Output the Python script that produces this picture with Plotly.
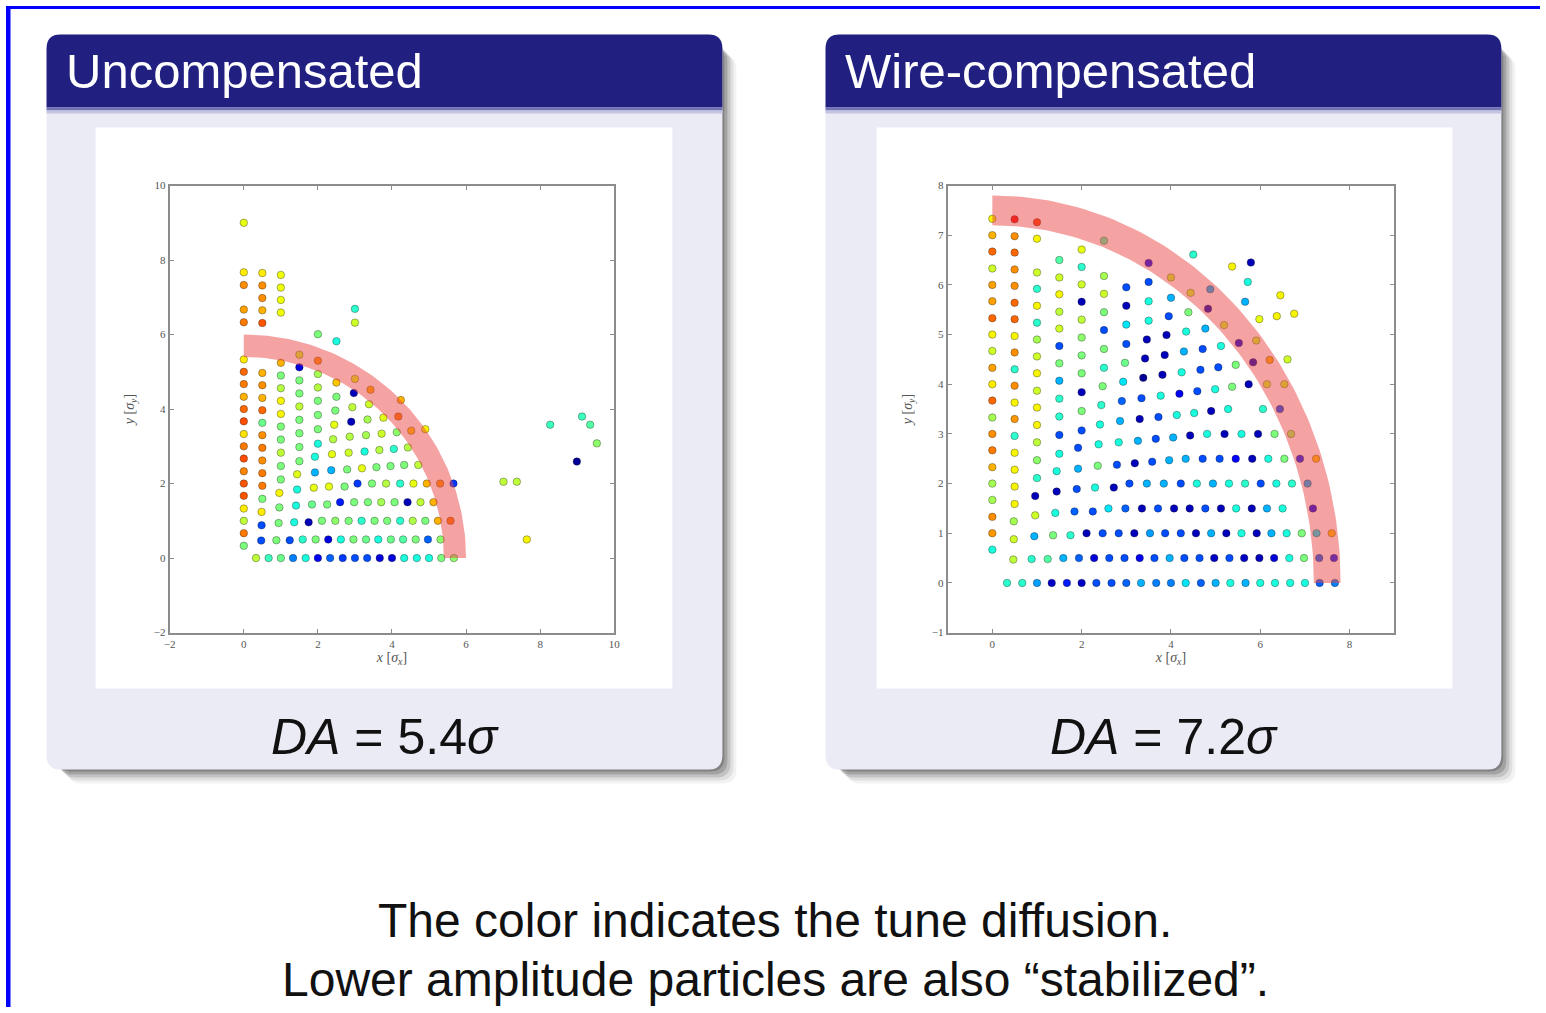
import numpy as np
import plotly.graph_objects as go

W, H = 1546, 1013

# ---- data: surviving particles (x, y in beam sigma, tune diffusion 0..1) ----
DA_UNCOMP = 5.4
DA_WIRE = 7.2
BAND_WIDTH = 0.6

unc_arc0 = [(0.33, 0, 0.58), (0.67, 0, 0.42), (1.0, 0, 0.48), (1.33, 0, 0.25), (1.67, 0, 0.38), (2.0, 0, 0.1),
            (2.33, 0, 0.22), (2.67, 0, 0.18), (3.0, 0, 0.2), (3.33, 0, 0.2), (3.67, 0, 0.08), (4.0, 0, 0.08),
            (4.33, 0, 0.38), (4.67, 0, 0.38), (5.0, 0, 0.38), (5.33, 0, 0.5), (5.67, 0, 0.52),
            (0, 0.33, 0.5), (0, 0.67, 0.78), (0, 1.0, 0.58), (0, 1.33, 0.66), (0, 1.67, 0.82), (0, 2.0, 0.82),
            (0, 2.33, 0.77), (0, 2.67, 0.83), (0, 3.0, 0.78), (0, 3.33, 0.67), (0, 3.67, 0.83), (0, 4.0, 0.8),
            (0, 4.33, 0.72), (0, 4.67, 0.78), (0, 5.0, 0.8), (0, 5.33, 0.66), (0, 6.33, 0.78), (0, 6.67, 0.74),
            (0, 7.33, 0.76), (0, 7.67, 0.66), (0, 9.0, 0.63)]
unc_arc1 = [(0.47, 0.47, 0.2),
            (0.88, 0.48, 0.5), (1.24, 0.48, 0.2), (1.59, 0.5, 0.4), (1.94, 0.5, 0.5), (2.28, 0.5, 0.08),
            (2.62, 0.5, 0.38), (2.96, 0.5, 0.5), (3.30, 0.5, 0.48), (3.63, 0.5, 0.38), (3.97, 0.5, 0.48),
            (4.30, 0.5, 0.45), (4.64, 0.5, 0.5), (4.97, 0.5, 0.22), (5.31, 0.5, 0.52), (7.64, 0.5, 0.65),
            (0.48, 0.88, 0.2), (0.48, 1.24, 0.66), (0.5, 1.59, 0.5), (0.5, 1.94, 0.78), (0.5, 2.28, 0.78),
            (0.5, 2.62, 0.76), (0.5, 2.96, 0.78), (0.5, 3.30, 0.76), (0.5, 3.63, 0.48), (0.5, 3.97, 0.8),
            (0.5, 4.30, 0.72), (0.5, 4.64, 0.76), (0.5, 4.97, 0.72), (0.5, 6.31, 0.82), (0.5, 6.65, 0.72),
            (0.5, 6.98, 0.76), (0.5, 7.32, 0.76), (0.5, 7.65, 0.66)]
unc_arc2 = [(0.94, 0.94, 0.5),
            (1.36, 0.96, 0.38), (1.75, 0.96, 0.05), (2.11, 1.0, 0.5), (2.47, 1.0, 0.52), (2.83, 1.0, 0.5),
            (3.18, 1.0, 0.4), (3.53, 1.0, 0.5), (3.87, 1.0, 0.5), (4.22, 1.0, 0.4), (4.56, 1.0, 0.56),
            (4.90, 1.0, 0.5), (5.24, 1.0, 0.72), (5.58, 1.0, 0.78),
            (0.96, 1.36, 0.5), (0.96, 1.75, 0.65), (1.0, 2.11, 0.5), (1.0, 2.47, 0.5), (1.0, 2.83, 0.58),
            (1.0, 3.18, 0.5), (1.0, 3.53, 0.5), (1.0, 3.87, 0.65), (1.0, 4.22, 0.65), (1.0, 4.56, 0.57),
            (1.0, 4.90, 0.5), (1.0, 5.24, 0.72), (1.0, 6.59, 0.64), (1.0, 6.93, 0.64), (1.0, 7.26, 0.64),
            (1.0, 7.60, 0.64)]
unc_arc3 = [(1.41, 1.41, 0.38),
            (1.84, 1.44, 0.48), (2.25, 1.44, 0.5), (2.60, 1.5, 0.15), (2.98, 1.5, 0.5), (3.35, 1.5, 0.5),
            (3.71, 1.5, 0.55), (4.07, 1.5, 0.5), (4.42, 1.5, 0.05), (4.77, 1.5, 0.58), (5.12, 1.5, 0.72),
            (1.44, 1.84, 0.38), (1.44, 2.25, 0.62), (1.5, 2.60, 0.5), (1.5, 2.98, 0.5), (1.5, 3.35, 0.5),
            (1.5, 3.71, 0.5), (1.5, 4.07, 0.58), (1.5, 4.42, 0.5), (1.5, 4.77, 0.5), (1.5, 5.12, 0.08),
            (1.5, 5.46, 0.6)]
unc_arc4 = [(1.89, 1.89, 0.63),
            (2.30, 1.92, 0.63), (2.72, 1.92, 0.5), (3.07, 2.0, 0.18), (3.46, 2.0, 0.5), (3.84, 2.0, 0.57),
            (4.22, 2.0, 0.4), (4.58, 2.0, 0.63), (4.94, 2.0, 0.72), (5.30, 2.0, 0.75), (5.66, 2.0, 0.18),
            (7.01, 2.05, 0.58), (7.37, 2.05, 0.58),
            (1.92, 2.30, 0.3), (1.92, 2.72, 0.38), (2.0, 3.07, 0.38), (2.0, 3.46, 0.5), (2.0, 3.84, 0.5),
            (2.0, 4.22, 0.5), (2.0, 4.58, 0.57), (2.0, 4.94, 0.55), (2.0, 5.30, 0.75), (2.0, 6.01, 0.5)]
unc_arc5 = [(2.36, 2.36, 0.3),
            (2.79, 2.38, 0.5), (3.19, 2.41, 0.63), (3.58, 2.44, 0.5), (3.96, 2.47, 0.5), (4.33, 2.5, 0.5),
            (4.71, 2.5, 0.58), (8.99, 2.59, 0.02),
            (2.38, 2.79, 0.63), (2.41, 3.19, 0.57), (2.44, 3.58, 0.63), (2.47, 3.96, 0.5), (2.5, 4.33, 0.5),
            (2.5, 4.71, 0.7), (2.5, 5.82, 0.38)]
unc_arc6 = [(2.83, 2.83, 0.6),
            (3.26, 2.86, 0.38), (3.66, 2.90, 0.57), (4.05, 2.93, 0.4), (4.43, 2.97, 0.57), (9.53, 3.08, 0.52),
            (2.86, 3.26, 0.57), (2.90, 3.66, 0.05), (2.93, 4.05, 0.58), (2.97, 4.43, 0.05), (3.0, 4.81, 0.62),
            (3.0, 6.32, 0.6), (3.0, 6.69, 0.4)]
unc_arc7 = [(3.30, 3.30, 0.55),
            (3.72, 3.34, 0.6), (4.13, 3.38, 0.52), (4.52, 3.42, 0.7), (4.90, 3.46, 0.65), (8.27, 3.58, 0.42),
            (9.35, 3.58, 0.45),
            (3.34, 3.72, 0.55), (3.38, 4.13, 0.6), (3.42, 4.52, 0.72)]
unc_arc8 = [(3.77, 3.77, 0.62), (4.17, 3.80, 0.78), (9.13, 3.80, 0.42), (4.24, 4.24, 0.72)]

wc_arc0 = [(0.33, 0, 0.4), (0.67, 0, 0.4), (1.0, 0, 0.28), (1.33, 0, 0.06), (1.67, 0, 0.15), (2.0, 0, 0.06),
           (2.33, 0, 0.2), (2.67, 0, 0.2), (3.0, 0, 0.22), (3.33, 0, 0.3), (3.67, 0, 0.25), (4.0, 0, 0.25),
           (4.33, 0, 0.35), (4.67, 0, 0.22), (5.0, 0, 0.3), (5.33, 0, 0.38), (5.67, 0, 0.3), (6.0, 0, 0.38),
           (6.33, 0, 0.38), (6.67, 0, 0.38), (7.0, 0, 0.38), (7.33, 0, 0.22), (7.67, 0, 0.25),
           (0, 0.67, 0.38), (0, 1.0, 0.75), (0, 1.33, 0.76), (0, 1.67, 0.55), (0, 2.0, 0.55), (0, 2.33, 0.72),
           (0, 2.67, 0.78), (0, 3.0, 0.76), (0, 3.33, 0.55), (0, 3.67, 0.8), (0, 4.0, 0.66), (0, 4.33, 0.74),
           (0, 4.67, 0.6), (0, 5.0, 0.65), (0, 5.33, 0.8), (0, 5.67, 0.74), (0, 6.0, 0.74), (0, 6.33, 0.6),
           (0, 6.67, 0.8), (0, 7.0, 0.72), (0, 7.33, 0.65)]
wc_arc1 = [(0.47, 0.47, 0.58),
           (0.88, 0.48, 0.4), (1.24, 0.48, 0.45), (1.59, 0.5, 0.3), (1.94, 0.5, 0.22), (2.28, 0.5, 0.08),
           (2.62, 0.5, 0.2), (2.96, 0.5, 0.2), (3.30, 0.5, 0.1), (3.63, 0.5, 0.2), (3.97, 0.5, 0.3),
           (4.30, 0.5, 0.2), (4.64, 0.5, 0.2), (4.97, 0.5, 0.06), (5.31, 0.5, 0.2), (5.64, 0.5, 0.06),
           (5.98, 0.5, 0.05), (6.31, 0.5, 0.08), (6.65, 0.5, 0.38), (6.98, 0.5, 0.5), (7.32, 0.5, 0.22),
           (7.65, 0.5, 0.15),
           (0.48, 0.88, 0.6), (0.48, 1.24, 0.55), (0.5, 1.59, 0.65), (0.5, 1.94, 0.65), (0.5, 2.28, 0.65),
           (0.5, 2.62, 0.65), (0.5, 2.96, 0.4), (0.5, 3.30, 0.75), (0.5, 3.63, 0.65), (0.5, 3.97, 0.76),
           (0.5, 4.30, 0.4), (0.5, 4.64, 0.76), (0.5, 4.97, 0.65), (0.5, 5.31, 0.8), (0.5, 5.64, 0.8),
           (0.5, 5.98, 0.76), (0.5, 6.31, 0.76), (0.5, 6.65, 0.8), (0.5, 6.98, 0.76), (0.5, 7.32, 0.9)]
wc_arc2 = [(0.94, 0.94, 0.3),
           (1.36, 0.96, 0.5), (1.75, 0.96, 0.4), (2.11, 1.0, 0.05), (2.47, 1.0, 0.2), (2.83, 1.0, 0.2),
           (3.18, 1.0, 0.05), (3.53, 1.0, 0.28), (3.87, 1.0, 0.2), (4.22, 1.0, 0.2), (4.56, 1.0, 0.05),
           (4.90, 1.0, 0.3), (5.24, 1.0, 0.05), (5.58, 1.0, 0.38), (5.92, 1.0, 0.05), (6.25, 1.0, 0.3),
           (6.59, 1.0, 0.38), (6.93, 1.0, 0.5), (7.26, 1.0, 0.35), (7.60, 1.0, 0.7),
           (0.96, 1.36, 0.6), (0.96, 1.75, 0.05), (1.0, 2.11, 0.4), (1.0, 2.47, 0.52), (1.0, 2.83, 0.58),
           (1.0, 3.18, 0.65), (1.0, 3.53, 0.65), (1.0, 3.87, 0.6), (1.0, 4.22, 0.65), (1.0, 4.56, 0.6),
           (1.0, 4.90, 0.55), (1.0, 5.24, 0.4), (1.0, 5.58, 0.65), (1.0, 5.92, 0.4), (1.0, 6.25, 0.6),
           (1.0, 6.93, 0.65), (1.0, 7.26, 0.85)]
wc_arc3 = [(1.41, 1.41, 0.38),
           (1.84, 1.44, 0.22), (2.25, 1.44, 0.2), (2.60, 1.5, 0.35), (2.98, 1.5, 0.22), (3.35, 1.5, 0.05),
           (3.71, 1.5, 0.2), (4.07, 1.5, 0.05), (4.42, 1.5, 0.05), (4.77, 1.5, 0.2), (5.12, 1.5, 0.05),
           (5.46, 1.5, 0.38), (5.81, 1.5, 0.05), (6.15, 1.5, 0.3), (6.50, 1.5, 0.38), (7.18, 1.5, 0.1),
           (1.44, 1.84, 0.05), (1.44, 2.25, 0.38), (1.5, 2.60, 0.38), (1.5, 2.98, 0.2), (1.5, 3.35, 0.4),
           (1.5, 3.71, 0.4), (1.5, 4.07, 0.3), (1.5, 4.42, 0.5), (1.5, 4.77, 0.2), (1.5, 5.12, 0.6),
           (1.5, 5.46, 0.58), (1.5, 5.81, 0.65), (1.5, 6.15, 0.6), (1.5, 6.50, 0.45)]
wc_arc4 = [(1.89, 1.89, 0.2),
           (2.30, 1.92, 0.38), (2.72, 1.92, 0.05), (3.07, 2.0, 0.2), (3.46, 2.0, 0.3), (3.84, 2.0, 0.3),
           (4.22, 2.0, 0.2), (4.58, 2.0, 0.38), (4.94, 2.0, 0.3), (5.30, 2.0, 0.38), (5.66, 2.0, 0.4),
           (6.01, 2.0, 0.2), (6.36, 2.0, 0.38), (6.71, 2.0, 0.4), (7.06, 2.0, 0.3),
           (1.92, 2.30, 0.3), (1.92, 2.72, 0.2), (2.0, 3.07, 0.2), (2.0, 3.46, 0.5), (2.0, 3.84, 0.05),
           (2.0, 4.22, 0.5), (2.0, 4.58, 0.5), (2.0, 4.94, 0.52), (2.0, 5.30, 0.58), (2.0, 5.66, 0.05),
           (2.0, 6.01, 0.6), (2.0, 6.36, 0.4), (2.0, 6.71, 0.63)]
wc_arc5 = [(2.36, 2.36, 0.5),
           (2.79, 2.38, 0.2), (3.19, 2.41, 0.05), (3.58, 2.44, 0.2), (3.96, 2.47, 0.3), (4.33, 2.5, 0.3),
           (4.71, 2.5, 0.2), (5.09, 2.5, 0.2), (5.45, 2.5, 0.12), (5.82, 2.5, 0.05), (6.18, 2.5, 0.38),
           (6.54, 2.5, 0.5), (6.89, 2.5, 0.15), (7.25, 2.5, 0.7),
           (2.38, 2.79, 0.38), (2.41, 3.19, 0.38), (2.44, 3.58, 0.4), (2.47, 3.96, 0.5), (2.5, 4.33, 0.4),
           (2.5, 4.71, 0.5), (2.5, 5.09, 0.2), (2.5, 5.45, 0.5), (2.5, 5.82, 0.6), (2.5, 6.18, 0.55),
           (2.5, 6.89, 0.45)]
wc_arc6 = [(2.83, 2.83, 0.38),
           (3.26, 2.86, 0.3), (3.66, 2.90, 0.2), (4.05, 2.93, 0.3), (4.43, 2.97, 0.05), (4.81, 3.0, 0.38),
           (5.20, 3.0, 0.05), (5.58, 3.0, 0.38), (5.95, 3.0, 0.05), (6.32, 3.0, 0.5), (6.69, 3.0, 0.55),
           (2.86, 3.26, 0.3), (2.90, 3.66, 0.22), (2.93, 4.05, 0.35), (2.97, 4.43, 0.48), (3.0, 4.81, 0.2),
           (3.0, 5.20, 0.35), (3.0, 5.58, 0.05), (3.0, 5.95, 0.2)]
wc_arc7 = [(3.30, 3.30, 0.05),
           (3.72, 3.34, 0.2), (4.13, 3.38, 0.38), (4.52, 3.42, 0.38), (4.90, 3.46, 0.05), (5.28, 3.5, 0.38),
           (6.06, 3.5, 0.4), (6.44, 3.5, 0.2),
           (3.34, 3.72, 0.2), (3.38, 4.13, 0.02), (3.42, 4.52, 0.05), (3.46, 4.90, 0.05), (3.5, 5.28, 0.38),
           (3.5, 5.67, 0.38), (3.5, 6.06, 0.2), (3.5, 6.44, 0.12)]
wc_arc8 = [(3.77, 3.77, 0.38),
           (4.19, 3.81, 0.1), (4.59, 3.86, 0.2), (4.99, 3.90, 0.38), (5.37, 3.95, 0.5), (5.74, 4.0, 0.05),
           (6.15, 4.0, 0.6), (6.54, 4.0, 0.6),
           (3.81, 4.19, 0.05), (3.86, 4.59, 0.05), (3.90, 4.99, 0.05), (3.95, 5.37, 0.2), (4.0, 5.74, 0.3),
           (4.0, 6.15, 0.6)]
wc_arc9 = [(4.24, 4.24, 0.38),
           (4.66, 4.29, 0.2), (5.06, 4.34, 0.2), (5.45, 4.39, 0.5), (5.84, 4.44, 0.05), (6.21, 4.49, 0.72),
           (6.61, 4.5, 0.6),
           (4.29, 4.66, 0.3), (4.34, 5.06, 0.38), (4.39, 5.45, 0.5), (4.44, 5.84, 0.6), (4.5, 6.61, 0.4)]
wc_arc10 = [(4.71, 4.71, 0.2), (5.12, 4.77, 0.38), (5.52, 4.83, 0.08), (5.91, 4.88, 0.6),
            (4.77, 5.12, 0.3), (4.83, 5.52, 0.05), (4.88, 5.91, 0.3)]
wc_arc11 = [(5.19, 5.19, 0.6), (5.98, 5.31, 0.63), (6.37, 5.37, 0.65), (6.76, 5.42, 0.65), (5.37, 6.37, 0.65)]
wc_arc12 = [(5.66, 5.66, 0.3), (6.45, 5.79, 0.65), (5.72, 6.06, 0.38), (5.79, 6.45, 0.05)]

unc_points = unc_arc0 + unc_arc1 + unc_arc2 + unc_arc3 + unc_arc4 + unc_arc5 + unc_arc6 + unc_arc7 + unc_arc8
wc_points = (wc_arc0 + wc_arc1 + wc_arc2 + wc_arc3 + wc_arc4 + wc_arc5 + wc_arc6 + wc_arc7 + wc_arc8
             + wc_arc9 + wc_arc10 + wc_arc11 + wc_arc12)

unc_ticks = [-2, 0, 2, 4, 6, 8, 10]
wc_xticks = [0, 2, 4, 6, 8]
wc_yticks = [-1, 0, 1, 2, 3, 4, 5, 6, 7, 8]

panel_titles = ["Uncompensated", "Wire-compensated"]
caption = ["The color indicates the tune diffusion.",
           "Lower amplitude particles are also \u201cstabilized\u201d."]

# matplotlib "jet"
JET = [[0.0, "rgb(0,0,128)"], [0.11, "rgb(0,0,255)"], [0.125, "rgb(0,0,255)"], [0.34, "rgb(0,219,255)"],
       [0.35, "rgb(0,229,247)"], [0.375, "rgb(21,255,226)"], [0.64, "rgb(239,255,8)"], [0.65, "rgb(247,245,0)"],
       [0.66, "rgb(255,236,0)"], [0.89, "rgb(255,19,0)"], [0.91, "rgb(232,0,0)"], [1.0, "rgb(128,0,0)"]]

NAVY = "#211f80"
BODY = "#ebebf6"

# slide positions below are in screen pixels; the page view is inset/scaled slightly,
# so pixels are mapped through that inset before converting to paper fractions
INSET_X, INSET_Y = 6.5, 6.5
SCALE_X, SCALE_Y = 0.991, 0.988


def fx(p):
    return max(0.0, (p - INSET_X) / SCALE_X) / W


def fy(p):
    return 1 - max(0.0, (p - INSET_Y) / SCALE_Y) / H


def rounded_path(x0, y0, x1, y1, r, top=True, bottom=True):
    """Rounded rectangle in pixel units, returned as a paper-space SVG path."""
    def P(x, y):
        return f"{fx(x):.5f},{fy(y):.5f}"
    rt = r if top else 0
    rb = r if bottom else 0
    d = f"M {P(x0 + rt, y0)} L {P(x1 - rt, y0)} "
    if rt:
        d += f"Q {P(x1, y0)} {P(x1, y0 + rt)} "
    d += f"L {P(x1, y1 - rb)} "
    if rb:
        d += f"Q {P(x1, y1)} {P(x1 - rb, y1)} "
    d += f"L {P(x0 + rb, y1)} "
    if rb:
        d += f"Q {P(x0, y1)} {P(x0, y1 - rb)} "
    d += f"L {P(x0, y0 + rt)} "
    if rt:
        d += f"Q {P(x0, y0)} {P(x0 + rt, y0)} "
    return d + "Z"


shapes = []
# blue slide frame (left and top edges)
shapes.append(dict(type="rect", xref="paper", yref="paper", x0=0, x1=fx(11), y0=0, y1=1,
                   fillcolor="#0000ff", line=dict(width=0), layer="below"))
shapes.append(dict(type="rect", xref="paper", yref="paper", x0=0, x1=1, y0=fy(9.5), y1=1,
                   fillcolor="#0000ff", line=dict(width=0), layer="below"))

blocks = [(47, 722, 96, 672), (825, 1500, 876, 1451)]
for bx0, bx1, ix0, ix1 in blocks:
    # soft drop shadow, offset down-right
    for d, a in [(15, 0.05), (12, 0.08), (9, 0.12), (6, 0.16), (3, 0.2)]:
        shapes.append(dict(type="path", xref="paper", yref="paper",
                           path=rounded_path(bx0 + d + 6, 35 + d + 6, bx1 + d - 1, 770 + d - 1, 14),
                           fillcolor=f"rgba(0,0,0,{a})", line=dict(width=0), layer="below"))
    shapes.append(dict(type="path", xref="paper", yref="paper", path=rounded_path(bx0, 35, bx1, 770, 14),
                       fillcolor=BODY, line=dict(width=0), layer="below"))
    shapes.append(dict(type="path", xref="paper", yref="paper",
                       path=rounded_path(bx0, 35, bx1, 108, 14, top=True, bottom=False),
                       fillcolor=NAVY, line=dict(width=0), layer="below"))
    shapes.append(dict(type="rect", xref="paper", yref="paper", x0=fx(bx0), x1=fx(bx1), y0=fy(111), y1=fy(108),
                       fillcolor="#7372b4", line=dict(width=0), layer="below"))
    shapes.append(dict(type="rect", xref="paper", yref="paper", x0=fx(bx0), x1=fx(bx1), y0=fy(114), y1=fy(111),
                       fillcolor="#c4c4e2", line=dict(width=0), layer="below"))
    shapes.append(dict(type="rect", xref="paper", yref="paper", x0=fx(ix0), x1=fx(ix1), y0=fy(689), y1=fy(128),
                       fillcolor="white", line=dict(width=0), layer="below"))

fig = go.Figure()


def band(da, xa, ya):
    t = np.linspace(0, np.pi / 2, 90)
    ro, ri = da + BAND_WIDTH, da
    bx = np.concatenate([ro * np.cos(t), ri * np.cos(t[::-1])])
    by = np.concatenate([ro * np.sin(t), ri * np.sin(t[::-1])])
    return go.Scatter(x=bx, y=by, xaxis=xa, yaxis=ya, mode="lines", fill="toself",
                      fillcolor="rgba(235,70,70,0.5)", line=dict(width=0), hoverinfo="skip")


for pts, da, xa, ya in [(unc_points, DA_UNCOMP, "x", "y"), (wc_points, DA_WIRE, "x2", "y2")]:
    xs = [p[0] for p in pts]
    ys = [p[1] for p in pts]
    cs = [p[2] for p in pts]
    fig.add_trace(go.Scatter(x=xs, y=ys, xaxis=xa, yaxis=ya, mode="markers",
                             marker=dict(size=7.5, color=cs, colorscale=JET, cmin=0, cmax=1,
                                         line=dict(width=1, color="rgba(20,20,20,0.35)"))))
    fig.add_trace(band(da, xa, ya))

axis_common = dict(showgrid=False, zeroline=False, showline=True, linecolor="#8c8c8c", linewidth=2,
                   mirror="ticks", ticks="inside", ticklen=4, tickwidth=1, tickcolor="#8c8c8c",
                   tickfont=dict(family="Liberation Serif", size=11, color="#555555"))
title_font = dict(family="Liberation Serif", size=14, color="#555555")

ydom = [fy(633), fy(186)]
fig.update_layout(
    width=W, height=H, margin=dict(l=0, r=0, t=0, b=0),
    paper_bgcolor="white", plot_bgcolor="white", showlegend=False,
    xaxis=dict(domain=[fx(170), fx(614)], range=[-2, 10], tickvals=unc_ticks, anchor="y",
               title=dict(text="<i>x</i> [<i>\u03c3<sub>x</sub></i>]", font=title_font, standoff=2), **axis_common),
    yaxis=dict(domain=ydom, range=[-2, 10], tickvals=unc_ticks, anchor="x",
               title=dict(text="<i>y</i> [<i>\u03c3<sub>y</sub></i>]", font=title_font, standoff=16), **axis_common),
    xaxis2=dict(domain=[fx(947), fx(1393)], range=[-1, 9], tickvals=wc_xticks, anchor="y2",
                title=dict(text="<i>x</i> [<i>\u03c3<sub>x</sub></i>]", font=title_font, standoff=2), **axis_common),
    yaxis2=dict(domain=ydom, range=[-1, 8], tickvals=wc_yticks, anchor="x2",
                title=dict(text="<i>y</i> [<i>\u03c3<sub>y</sub></i>]", font=title_font, standoff=16), **axis_common),
    shapes=shapes,
)

ann = []
for title, x0 in zip(panel_titles, [64, 842]):
    ann.append(dict(x=fx(x0), y=fy(71), xref="paper", yref="paper", xanchor="left", yanchor="middle",
                    text=title, showarrow=False,
                    font=dict(family="Liberation Sans", size=49, color="white")))
for val, cx in [(DA_UNCOMP, 385), (DA_WIRE, 1163)]:
    ann.append(dict(x=fx(cx), y=fy(737), xref="paper", yref="paper", xanchor="center", yanchor="middle",
                    text=f"<i>DA</i> = {val:.1f}<i>\u03c3</i>", showarrow=False,
                    font=dict(family="Liberation Sans", size=50, color="#111111")))
for line, cy in zip(caption, [921, 980]):
    ann.append(dict(x=fx(775), y=fy(cy), xref="paper", yref="paper", xanchor="center", yanchor="middle",
                    text=line, showarrow=False,
                    font=dict(family="Liberation Sans", size=48, color="#111111")))
fig.update_layout(annotations=ann)

fig.write_html("out.html")
